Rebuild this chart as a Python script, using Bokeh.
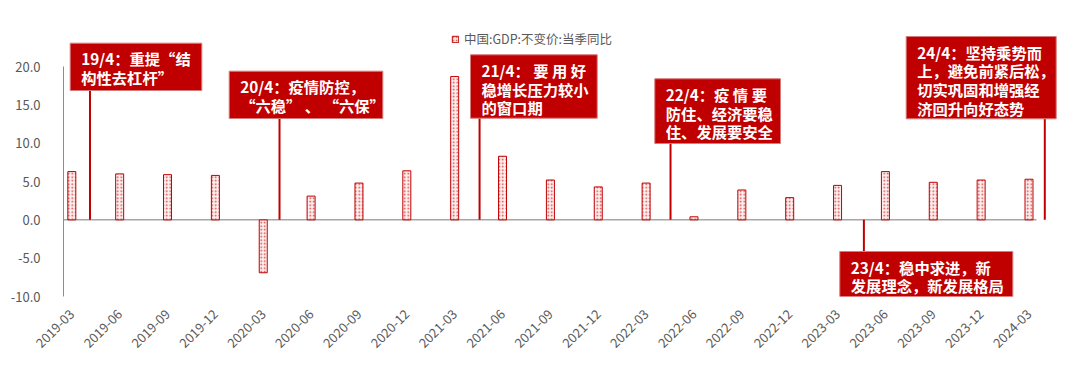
from math import pi
from bokeh.plotting import figure
from bokeh.models import Range1d, FixedTicker, Legend, LegendItem, Label, NumeralTickFormatter
from bokeh.core.properties import value
from bokeh.embed import file_html
from bokeh.resources import INLINE

# ---------------- data ----------------
quarters = ["2019-03", "2019-06", "2019-09", "2019-12",
            "2020-03", "2020-06", "2020-09", "2020-12",
            "2021-03", "2021-06", "2021-09", "2021-12",
            "2022-03", "2022-06", "2022-09", "2022-12",
            "2023-03", "2023-06", "2023-09", "2023-12",
            "2024-03"]
gdp = [6.3, 6.0, 5.9, 5.8,
       -6.9, 3.1, 4.8, 6.4,
       18.7, 8.3, 5.2, 4.3,
       4.8, 0.4, 3.9, 2.9,
       4.5, 6.3, 4.9, 5.2,
       5.3]
series_name = "中国:GDP:不变价:当季同比"
y_ticks = [-10, -5, 0, 5, 10, 15, 20]

# Politburo April meetings: position along the quarter axis, and text
event_pos = [0.38, 4.34, 8.52, 12.51, 16.55, 20.33]
event_text = [
    ["19/4：重提“结", "构性去杠杆”"],
    ["20/4：疫情防控，", "“六稳” 、 “六保”"],
    ["21/4： 要 用 好", "稳增长压力较小", "的窗口期"],
    ["22/4：疫 情 要", "防住、经济要稳", "住、发展要安全"],
    ["23/4：稳中求进，新", "发展理念，新发展格局"],
    ["24/4：坚持乘势而", "上，避免前紧后松，", "切实巩固和增强经", "济回升向好态势"],
]

# ---------------- layout (pixels of the figure canvas) ----------------
W, H = 1072, 360
FRAME_L, FRAME_R, FRAME_T, FRAME_B = 63, 1072, 8, 296
X0_PX, PX_PER_Q = 71.3, 47.86          # x of first quarter, px per quarter
Y_MIN = -10.0
Y_SPAN = 37.58
PX_PER_Y = (FRAME_B - FRAME_T) / Y_SPAN

def dx(px):
    return (px - X0_PX) / PX_PER_Q

def dy(py):
    return Y_MIN + (FRAME_B - py) / PX_PER_Y

# box geometry in px: (left, right, top, bottom)
boxes_px = [(69.7, 201.3, 42.7, 90.0),
            (228.7, 382.3, 70.7, 118.0),
            (470.0, 596.7, 54.3, 117.7),
            (654.3, 780.0, 78.3, 143.0),
            (839.3, 1012.3, 251.0, 299.3),
            (905.7, 1055.7, 36.0, 118.3)]

RED = "#C00000"
GRAY_TXT = "#595959"
FONT = "Noto Sans CJK SC"

p = figure(width=W, height=H, output_backend="svg", toolbar_location=None,
           x_range=Range1d(dx(FRAME_L), dx(FRAME_R)),
           y_range=Range1d(Y_MIN, Y_MIN + Y_SPAN),
           min_border_left=FRAME_L, min_border_right=W - FRAME_R,
           min_border_top=FRAME_T, min_border_bottom=H - FRAME_B)
p.outline_line_color = None
p.grid.visible = False
p.background_fill_color = "white"
p.border_fill_color = "white"

# y axis
p.yaxis.ticker = FixedTicker(ticks=y_ticks)
p.yaxis.formatter = NumeralTickFormatter(format="0.0")
p.yaxis.bounds = (-10, 20)
p.yaxis.axis_line_color = "#8C8C8C"
p.yaxis.axis_line_width = 1
p.yaxis.major_tick_line_color = None
p.yaxis.minor_tick_line_color = None
p.yaxis.major_label_standoff = 17
p.yaxis.major_label_text_color = GRAY_TXT
p.yaxis.major_label_text_font = FONT
p.yaxis.major_label_text_font_size = "13px"

# x axis
idx = list(range(len(quarters)))
p.xaxis.ticker = FixedTicker(ticks=idx)
p.xaxis.major_label_overrides = {i: q for i, q in zip(idx, quarters)}
p.xaxis.major_label_orientation = pi / 4
p.xaxis.axis_line_color = None
p.xaxis.major_tick_line_color = None
p.xaxis.minor_tick_line_color = None
p.xaxis.major_label_standoff = 9
p.xaxis.major_label_text_color = GRAY_TXT
p.xaxis.major_label_text_font = FONT
p.xaxis.major_label_text_font_size = "13px"

# zero line
p.segment(x0=[dx(FRAME_L)], y0=[0], x1=[dx(1036)], y1=[0], line_color="#A6A6A6", line_width=1.5)

# bars
bars = p.vbar(x=idx, top=gdp, bottom=0, width=8 / PX_PER_Q,
              fill_color="#FDEEEE", line_color=RED, line_width=1,
              hatch_pattern="dot", hatch_color=RED, hatch_alpha=0.7,
              hatch_scale=3.5, hatch_weight=1)

# event lines and boxes
line_end = []
for (l, r, t, b), pos in zip(boxes_px, event_pos):
    line_end.append(dy(t) if dy(t) < 0 else dy(b))
p.segment(x0=event_pos, y0=[0] * len(event_pos), x1=event_pos, y1=line_end,
          line_color=RED, line_width=2)

p.quad(left=[dx(b[0]) for b in boxes_px], right=[dx(b[1]) for b in boxes_px],
       top=[dy(b[2]) for b in boxes_px], bottom=[dy(b[3]) for b in boxes_px],
       fill_color=RED, line_color="#D77A7A", line_width=1)

tx, ty, tt = [], [], []
for (l, r, t, b), lines in zip(boxes_px, event_text):
    for k, s in enumerate(lines):
        tx.append(dx(l + 11))
        ty.append(dy(t + 15 + 18.7 * k))
        tt.append(s)
p.text(x=tx, y=ty, text=tt, text_color="white", text_font=value(FONT),
       text_font_style="bold", text_font_size="15.3px",
       text_align="left", text_baseline="middle")

# legend
legend = Legend(items=[LegendItem(label=series_name, renderers=[bars])],
                location=(451 - FRAME_L, FRAME_B - 48),
                orientation="horizontal", padding=0, margin=0, spacing=0,
                glyph_width=8, glyph_height=8, label_standoff=5,
                label_text_font=FONT, label_text_font_size="12.5px",
                label_text_color=GRAY_TXT, border_line_color=None,
                background_fill_alpha=0)
p.add_layout(legend)

# watermark (screen units are measured from the frame's bottom-left)
p.add_layout(Label(x=50 - FRAME_L, y=FRAME_B - 343, x_units="screen", y_units="screen",
                   text="大数跨境", text_font=FONT,
                   text_font_size="22px", text_color="#C8C8C8", text_alpha=0.85,
                   text_baseline="middle", text_align="left"))

open("out.html", "w").write(file_html(p, INLINE))
